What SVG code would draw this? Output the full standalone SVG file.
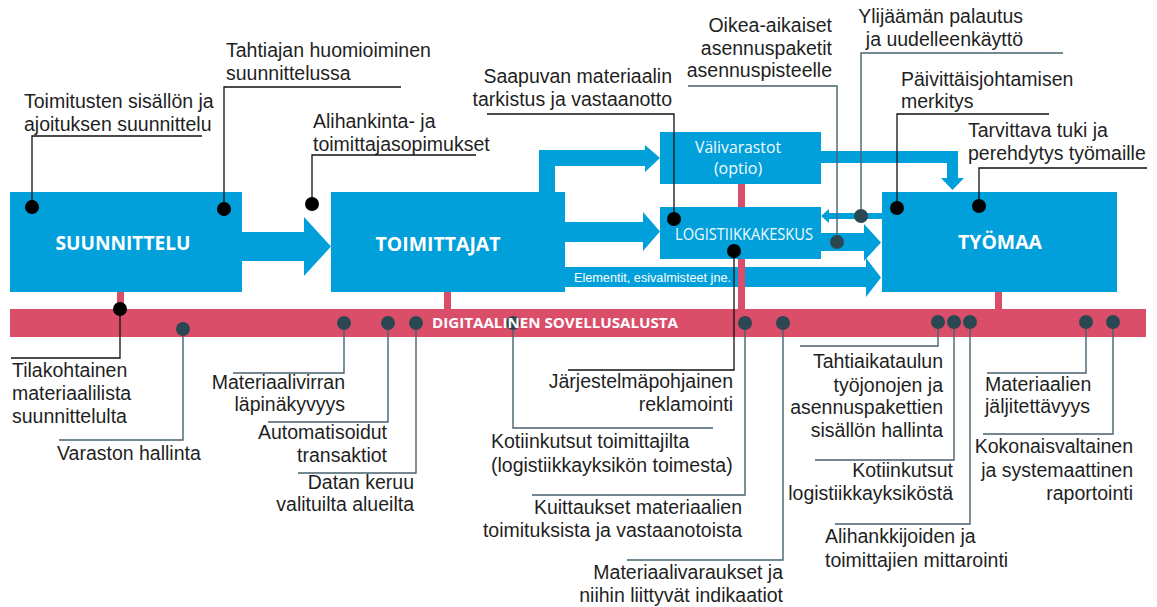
<svg xmlns="http://www.w3.org/2000/svg" width="1157" height="607" viewBox="0 0 1157 607">
  <style>
    .box { fill: #02a0db; }
    .flow { fill: #02a0db; }
    .bar { fill: #db4e6a; }
    .stem { fill: #db4e6a; }
    .lead-k { fill: none; stroke: #111; stroke-width: 1.3; }
    .lead-d { fill: none; stroke: #48626e; stroke-width: 1.4; }
    .dot-k { fill: #000; }
    .dot-d { fill: #2b4752; }
    .lbl { font-family: "Liberation Sans", Arial, sans-serif; font-size: 19.5px; fill: #1f1f1f; }
    .end { text-anchor: end; }
    .title { font-family: "Open Sans", "Liberation Sans", sans-serif; font-weight: bold; font-size: 19px; fill: #fff; text-anchor: middle; }
    .sub { font-family: "Open Sans", "Liberation Sans", sans-serif; font-size: 16px; fill: #f2fbff; text-anchor: middle; }
    .small { font-family: "Liberation Sans", Arial, sans-serif; font-size: 12px; fill: #fff; }
    .platform { font-family: "Open Sans", "Liberation Sans", sans-serif; font-weight: bold; font-size: 14.5px; fill: #fff; }
  </style>

  <!-- material flow arrows -->
  <g id="connectors">
    <polygon class="flow" points="242,232 304,232 304,217 331,246.5 304,276 304,261 242,261"/>
    <polygon class="flow" points="539,192 539,150 645,150 645,145 660,158 645,172 645,166 555,166 555,192"/>
    <polygon class="flow" points="565,222 643,222 643,212 660,231.5 643,251 643,242 565,242"/>
    <polygon class="flow" points="565,267 866,267 866,258 881,277.5 866,297 866,287 565,287"/>
    <polygon class="flow" points="821,233 864,233 864,224 881,242.5 864,261 864,251 821,251"/>
    <polygon class="flow" points="882,213 829,213 829,209 821,216 829,223 829,219 882,219"/>
    <polygon class="flow" points="821,151 958,151 958,178 964,178 952.5,190 941,178 947,178 947,163 821,163"/>
    <text class="small" x="574" y="282" textLength="157" lengthAdjust="spacingAndGlyphs">Elementit, esivalmisteet jne.</text>
  </g>

  <!-- links from each node down to the platform -->
  <g id="platform-links">
    <rect class="stem" x="117" y="290" width="7" height="20"/>
    <rect class="stem" x="444" y="290" width="7" height="20"/>
    <rect class="stem" x="738" y="182" width="7" height="128"/>
    <rect class="stem" x="995" y="290" width="7" height="20"/>
  </g>

  <g id="suunnittelu">
    <rect class="box" x="10" y="192" width="232" height="100"/>
    <text class="title" x="123" y="250" textLength="135" lengthAdjust="spacingAndGlyphs">SUUNNITTELU</text>
  </g>
  <g id="toimittajat">
    <rect class="box" x="331" y="192" width="234" height="100"/>
    <text class="title" x="438" y="251" textLength="125" lengthAdjust="spacingAndGlyphs">TOIMITTAJAT</text>
  </g>
  <g id="valivarastot">
    <rect class="box" x="660" y="132" width="161" height="52"/>
    <text class="sub" x="738" y="153" textLength="86" lengthAdjust="spacingAndGlyphs">Välivarastot</text>
    <text class="sub" x="738" y="174">(optio)</text>
  </g>
  <g id="logistiikkakeskus">
    <rect class="box" x="660" y="207" width="161" height="52"/>
    <text class="sub" x="744" y="240" font-size="15" textLength="138" lengthAdjust="spacingAndGlyphs">LOGISTIIKKAKESKUS</text>
  </g>
  <g id="tyomaa">
    <rect class="box" x="882" y="192" width="235" height="100"/>
    <text class="title" x="1000" y="249" textLength="84" lengthAdjust="spacingAndGlyphs">TYÖMAA</text>
  </g>

  <g id="sovellusalusta">
    <rect class="bar" x="10" y="309" width="1136" height="28"/>
  </g>

  <!-- callout leaders -->
  <g id="leaders">
    <path class="lead-k" d="M32,207 V136 H202"/>
    <path class="lead-k" d="M224,209 V87 H401"/>
    <path class="lead-k" d="M312,204 V155 H476"/>
    <path class="lead-k" d="M674,219 V114 H487"/>
    <path class="lead-d" d="M837,242 V86 H688"/>
    <path class="lead-d" d="M861,216 V53 H1063"/>
    <path class="lead-k" d="M897,208 V114 H1049"/>
    <path class="lead-k" d="M979,206 V168 H1147"/>
    <path class="lead-k" d="M120,309 V358 H11"/>
    <path class="lead-k" d="M734,251 V370 H568"/>
    <path class="lead-d" d="M183,329 V440 H59"/>
    <path class="lead-d" d="M344,323 V373 H233"/>
    <path class="lead-d" d="M388,323 V422 H268"/>
    <path class="lead-d" d="M416,323 V473 H298"/>
    <path class="lead-d" d="M513,323 V428 H713"/>
    <path class="lead-d" d="M745,323 V495 H532"/>
    <path class="lead-d" d="M783,323 V560 H627"/>
    <path class="lead-d" d="M938,323 V346 H800"/>
    <path class="lead-d" d="M954,323 V460 H815"/>
    <path class="lead-d" d="M970,323 V524 H835"/>
    <path class="lead-d" d="M1086,323 V373 H987"/>
    <path class="lead-d" d="M1113,323 V434 H983"/>
  </g>

  <g id="markers">
    <circle class="dot-k" cx="32" cy="207" r="7"/>
    <circle class="dot-k" cx="224" cy="209" r="7"/>
    <circle class="dot-k" cx="312" cy="204" r="7"/>
    <circle class="dot-k" cx="674" cy="219" r="7"/>
    <circle class="dot-d" cx="837" cy="242" r="7"/>
    <circle class="dot-d" cx="861" cy="216" r="7"/>
    <circle class="dot-k" cx="897" cy="208" r="7"/>
    <circle class="dot-k" cx="979" cy="206" r="7"/>
    <circle class="dot-k" cx="120" cy="309" r="7"/>
    <circle class="dot-k" cx="734" cy="251" r="7"/>
    <circle class="dot-d" cx="183" cy="329" r="7"/>
    <circle class="dot-d" cx="344" cy="323" r="7"/>
    <circle class="dot-d" cx="388" cy="323" r="7"/>
    <circle class="dot-d" cx="416" cy="323" r="7"/>
    <circle class="dot-d" cx="513" cy="323" r="7"/>
    <circle class="dot-d" cx="745" cy="323" r="7"/>
    <circle class="dot-d" cx="783" cy="323" r="7"/>
    <circle class="dot-d" cx="938" cy="322" r="7"/>
    <circle class="dot-d" cx="954" cy="322" r="7"/>
    <circle class="dot-d" cx="970" cy="322" r="7"/>
    <circle class="dot-d" cx="1086" cy="322" r="7"/>
    <circle class="dot-d" cx="1113" cy="322" r="7"/>
  </g>

  <text class="platform" x="432" y="328" textLength="246" lengthAdjust="spacingAndGlyphs">DIGITAALINEN SOVELLUSALUSTA</text>

  <g id="labels">
    <text class="lbl" x="24" y="108">Toimitusten sisällön ja</text>
    <text class="lbl" x="24" y="131">ajoituksen suunnittelu</text>
    <text class="lbl" x="226" y="57">Tahtiajan huomioiminen</text>
    <text class="lbl" x="226" y="80">suunnittelussa</text>
    <text class="lbl" x="313" y="128">Alihankinta- ja</text>
    <text class="lbl" x="313" y="151">toimittajasopimukset</text>
    <text class="lbl end" x="672" y="83">Saapuvan materiaalin</text>
    <text class="lbl end" x="672" y="106">tarkistus ja vastaanotto</text>
    <text class="lbl end" x="832" y="32">Oikea-aikaiset</text>
    <text class="lbl end" x="832" y="55">asennuspaketit</text>
    <text class="lbl end" x="832" y="77">asennuspisteelle</text>
    <text class="lbl end" x="1023" y="23">Ylijäämän palautus</text>
    <text class="lbl end" x="1023" y="46">ja uudelleenkäyttö</text>
    <text class="lbl" x="901" y="86">Päivittäisjohtamisen</text>
    <text class="lbl" x="901" y="108">merkitys</text>
    <text class="lbl" x="968" y="137">Tarvittava tuki ja</text>
    <text class="lbl" x="968" y="160">perehdytys työmaille</text>

    <text class="lbl" x="12" y="377">Tilakohtainen</text>
    <text class="lbl" x="12" y="400">materiaalilista</text>
    <text class="lbl" x="12" y="423">suunnittelulta</text>
    <text class="lbl" x="57" y="460">Varaston hallinta</text>
    <text class="lbl end" x="345" y="389">Materiaalivirran</text>
    <text class="lbl end" x="345" y="411">läpinäkyvyys</text>
    <text class="lbl end" x="387" y="439">Automatisoidut</text>
    <text class="lbl end" x="387" y="462">transaktiot</text>
    <text class="lbl end" x="414" y="489">Datan keruu</text>
    <text class="lbl end" x="414" y="511">valituilta alueilta</text>
    <text class="lbl end" x="733" y="388">Järjestelmäpohjainen</text>
    <text class="lbl end" x="733" y="411">reklamointi</text>
    <text class="lbl" x="491" y="448">Kotiinkutsut toimittajilta</text>
    <text class="lbl" x="491" y="472">(logistiikkayksikön toimesta)</text>
    <text class="lbl end" x="742" y="514">Kuittaukset materiaalien</text>
    <text class="lbl end" x="742" y="537">toimituksista ja vastaanotoista</text>
    <text class="lbl end" x="783" y="579">Materiaalivaraukset ja</text>
    <text class="lbl end" x="783" y="602">niihin liittyvät indikaatiot</text>
    <text class="lbl end" x="943" y="368">Tahtiaikataulun</text>
    <text class="lbl end" x="943" y="392">työjonojen ja</text>
    <text class="lbl end" x="943" y="414">asennuspakettien</text>
    <text class="lbl end" x="943" y="437">sisällön hallinta</text>
    <text class="lbl end" x="953" y="477">Kotiinkutsut</text>
    <text class="lbl end" x="953" y="500">logistiikkayksiköstä</text>
    <text class="lbl" x="825" y="543">Alihankkijoiden ja</text>
    <text class="lbl" x="825" y="567">toimittajien mittarointi</text>
    <text class="lbl" x="985" y="391">Materiaalien</text>
    <text class="lbl" x="985" y="413">jäljitettävyys</text>
    <text class="lbl end" x="1133" y="453">Kokonaisvaltainen</text>
    <text class="lbl end" x="1133" y="477">ja systemaattinen</text>
    <text class="lbl end" x="1133" y="500">raportointi</text>
  </g>
</svg>
